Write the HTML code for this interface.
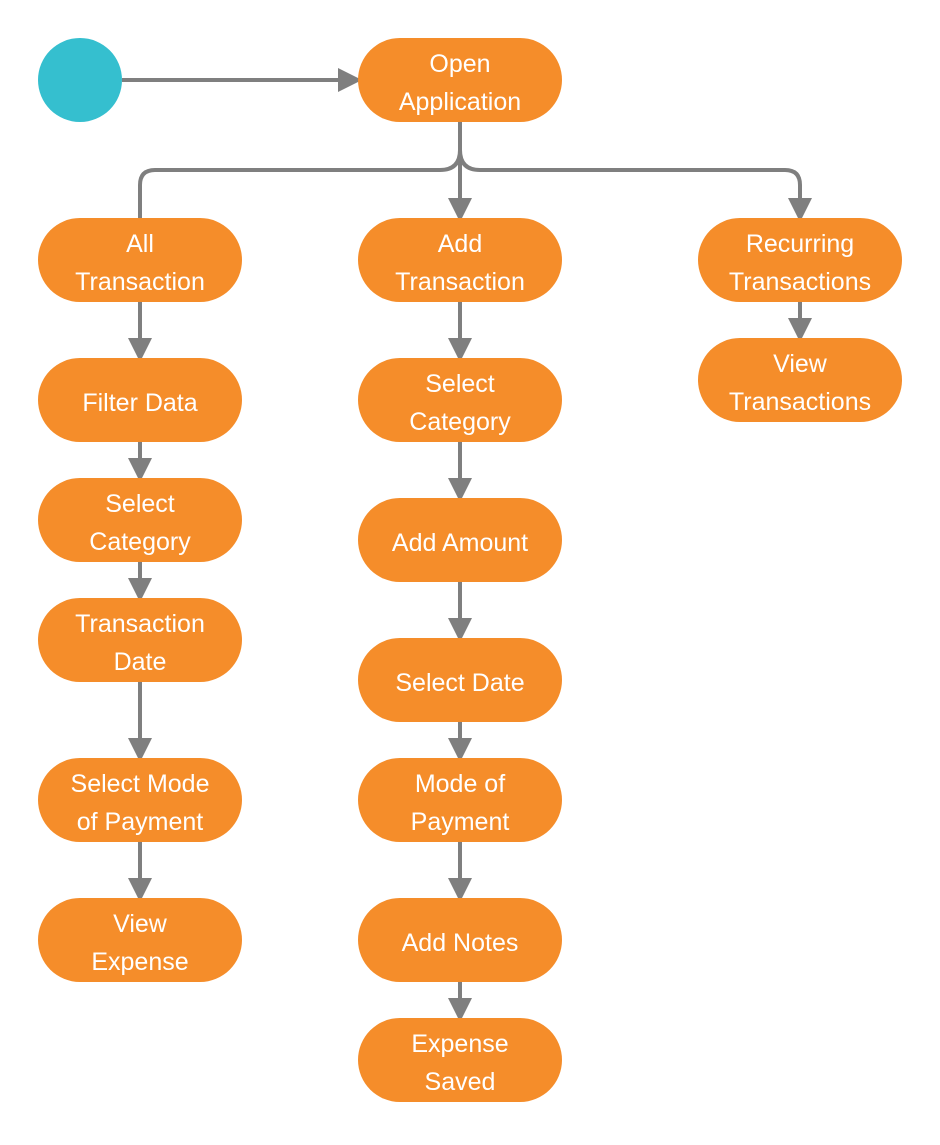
<!DOCTYPE html>
<html><head><style>
body{margin:0;background:#fff;}
svg text{font-family:"Liberation Sans",sans-serif;font-size:25px;fill:#fff;text-anchor:middle;}
</style></head><body>
<svg width="940" height="1140" xmlns="http://www.w3.org/2000/svg">
<defs>
<marker id="a" markerWidth="6" markerHeight="6" refX="5" refY="3" orient="auto" markerUnits="strokeWidth">
<path d="M0,0 L6,3 L0,6 Z" fill="#7f7f7f"/></marker>
</defs>
<g stroke="#7f7f7f" stroke-width="4" fill="none">
<path d="M122,80 H358" marker-end="url(#a)"/>
<path d="M460,122 V218" marker-end="url(#a)"/>
<path d="M460,150 Q460,170 440,170 H155 Q140,170 140,185 V218"/>
<path d="M460,150 Q460,170 480,170 H785 Q800,170 800,185 V218" marker-end="url(#a)"/>
<path d="M140,302 V358" marker-end="url(#a)"/>
<path d="M140,442 V478" marker-end="url(#a)"/>
<path d="M140,562 V598" marker-end="url(#a)"/>
<path d="M140,682 V758" marker-end="url(#a)"/>
<path d="M140,842 V898" marker-end="url(#a)"/>
<path d="M460,302 V358" marker-end="url(#a)"/>
<path d="M460,442 V498" marker-end="url(#a)"/>
<path d="M460,582 V638" marker-end="url(#a)"/>
<path d="M460,722 V758" marker-end="url(#a)"/>
<path d="M460,842 V898" marker-end="url(#a)"/>
<path d="M460,982 V1018" marker-end="url(#a)"/>
<path d="M800,302 V338" marker-end="url(#a)"/>
</g>
<circle cx="80" cy="80" r="42" fill="#35bfcf"/>
<g fill="#f58d2a">
<rect x="358" y="38" width="204" height="84" rx="42"/>
<rect x="38" y="218" width="204" height="84" rx="42"/>
<rect x="38" y="358" width="204" height="84" rx="42"/>
<rect x="38" y="478" width="204" height="84" rx="42"/>
<rect x="38" y="598" width="204" height="84" rx="42"/>
<rect x="38" y="758" width="204" height="84" rx="42"/>
<rect x="38" y="898" width="204" height="84" rx="42"/>
<rect x="358" y="218" width="204" height="84" rx="42"/>
<rect x="358" y="358" width="204" height="84" rx="42"/>
<rect x="358" y="498" width="204" height="84" rx="42"/>
<rect x="358" y="638" width="204" height="84" rx="42"/>
<rect x="358" y="758" width="204" height="84" rx="42"/>
<rect x="358" y="898" width="204" height="84" rx="42"/>
<rect x="358" y="1018" width="204" height="84" rx="42"/>
<rect x="698" y="218" width="204" height="84" rx="42"/>
<rect x="698" y="338" width="204" height="84" rx="42"/>
</g>
<text x="460" y="72">Open</text><text x="460" y="110">Application</text>
<text x="140" y="252">All</text><text x="140" y="290">Transaction</text>
<text x="140" y="411">Filter Data</text>
<text x="140" y="512">Select</text><text x="140" y="550">Category</text>
<text x="140" y="632">Transaction</text><text x="140" y="670">Date</text>
<text x="140" y="792">Select Mode</text><text x="140" y="830">of Payment</text>
<text x="140" y="932">View</text><text x="140" y="970">Expense</text>
<text x="460" y="252">Add</text><text x="460" y="290">Transaction</text>
<text x="460" y="392">Select</text><text x="460" y="430">Category</text>
<text x="460" y="551">Add Amount</text>
<text x="460" y="691">Select Date</text>
<text x="460" y="792">Mode of</text><text x="460" y="830">Payment</text>
<text x="460" y="951">Add Notes</text>
<text x="460" y="1052">Expense</text><text x="460" y="1090">Saved</text>
<text x="800" y="252">Recurring</text><text x="800" y="290">Transactions</text>
<text x="800" y="372">View</text><text x="800" y="410">Transactions</text>
</svg>
</body></html>
